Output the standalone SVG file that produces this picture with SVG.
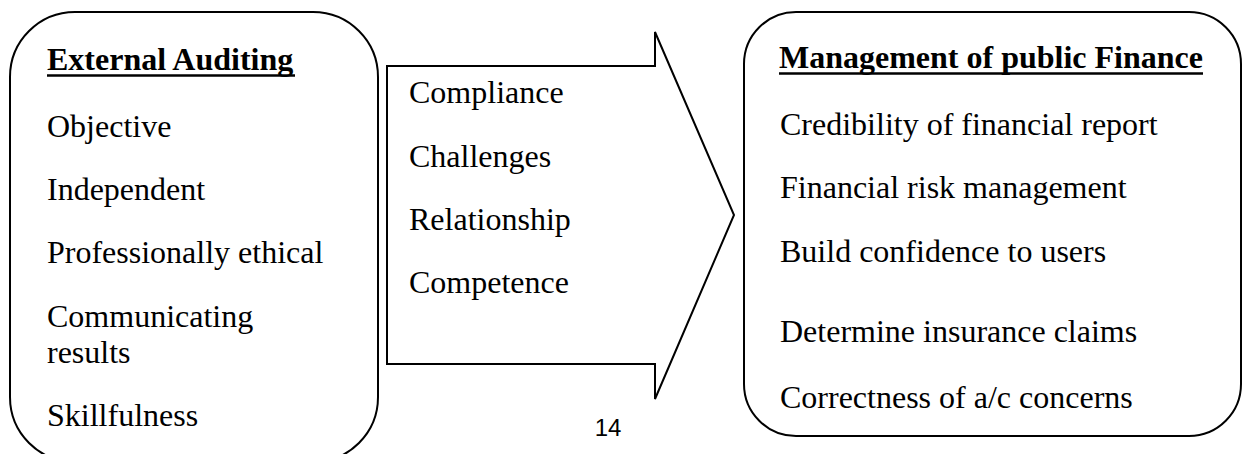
<svg xmlns="http://www.w3.org/2000/svg" width="1243" height="454" viewBox="0 0 1243 454">
  <style>
    .box { fill: #ffffff; stroke: #000000; stroke-width: 2; }
    .t { font-family: "Liberation Serif", "Times New Roman", serif; font-size: 32px; fill: #000000; }
    .h { font-family: "Liberation Serif", "Times New Roman", serif; font-size: 32px; font-weight: bold; fill: #000000; }
    .ul { stroke: #000000; stroke-width: 2.5; }
    .pg { font-family: "Liberation Sans", Arial, sans-serif; font-size: 24px; fill: #000000; }
  </style>
  <rect x="0" y="0" width="1243" height="454" fill="#ffffff"/>

  <g id="external-auditing">
    <rect class="box" x="10" y="12" width="368" height="450" rx="65" ry="65"/>
    <text class="h" x="47" y="70">External Auditing</text>
    <line class="ul" x1="47" y1="75.5" x2="295" y2="75.5"/>
    <text class="t" x="47" y="137">Objective</text>
    <text class="t" x="47" y="200">Independent</text>
    <text class="t" x="47" y="263">Professionally ethical</text>
    <text class="t" x="47" y="327">Communicating</text>
    <text class="t" x="47" y="363">results</text>
    <text class="t" x="47" y="426">Skillfulness</text>
  </g>

  <g id="connectors">
    <g id="arrow">
      <polygon class="box" points="387,66 655,66 655,32 734,215 655,399 655,364 387,364"/>
      <text class="t" x="409" y="103">Compliance</text>
      <text class="t" x="409" y="167">Challenges</text>
      <text class="t" x="409" y="230">Relationship</text>
      <text class="t" x="409" y="293">Competence</text>
    </g>
  </g>

  <g id="management-public-finance">
    <rect class="box" x="744" y="12" width="497" height="424" rx="52" ry="52"/>
    <text class="h" x="779" y="68">Management of public Finance</text>
    <line class="ul" x1="779" y1="73.5" x2="1203" y2="73.5"/>
    <text class="t" x="780" y="135">Credibility of financial report</text>
    <text class="t" x="780" y="198">Financial risk management</text>
    <text class="t" x="780" y="262">Build confidence to users</text>
    <text class="t" x="780" y="342">Determine insurance claims</text>
    <text class="t" x="780" y="408">Correctness of a/c concerns</text>
  </g>

  <text class="pg" x="608" y="436" text-anchor="middle">14</text>
</svg>
